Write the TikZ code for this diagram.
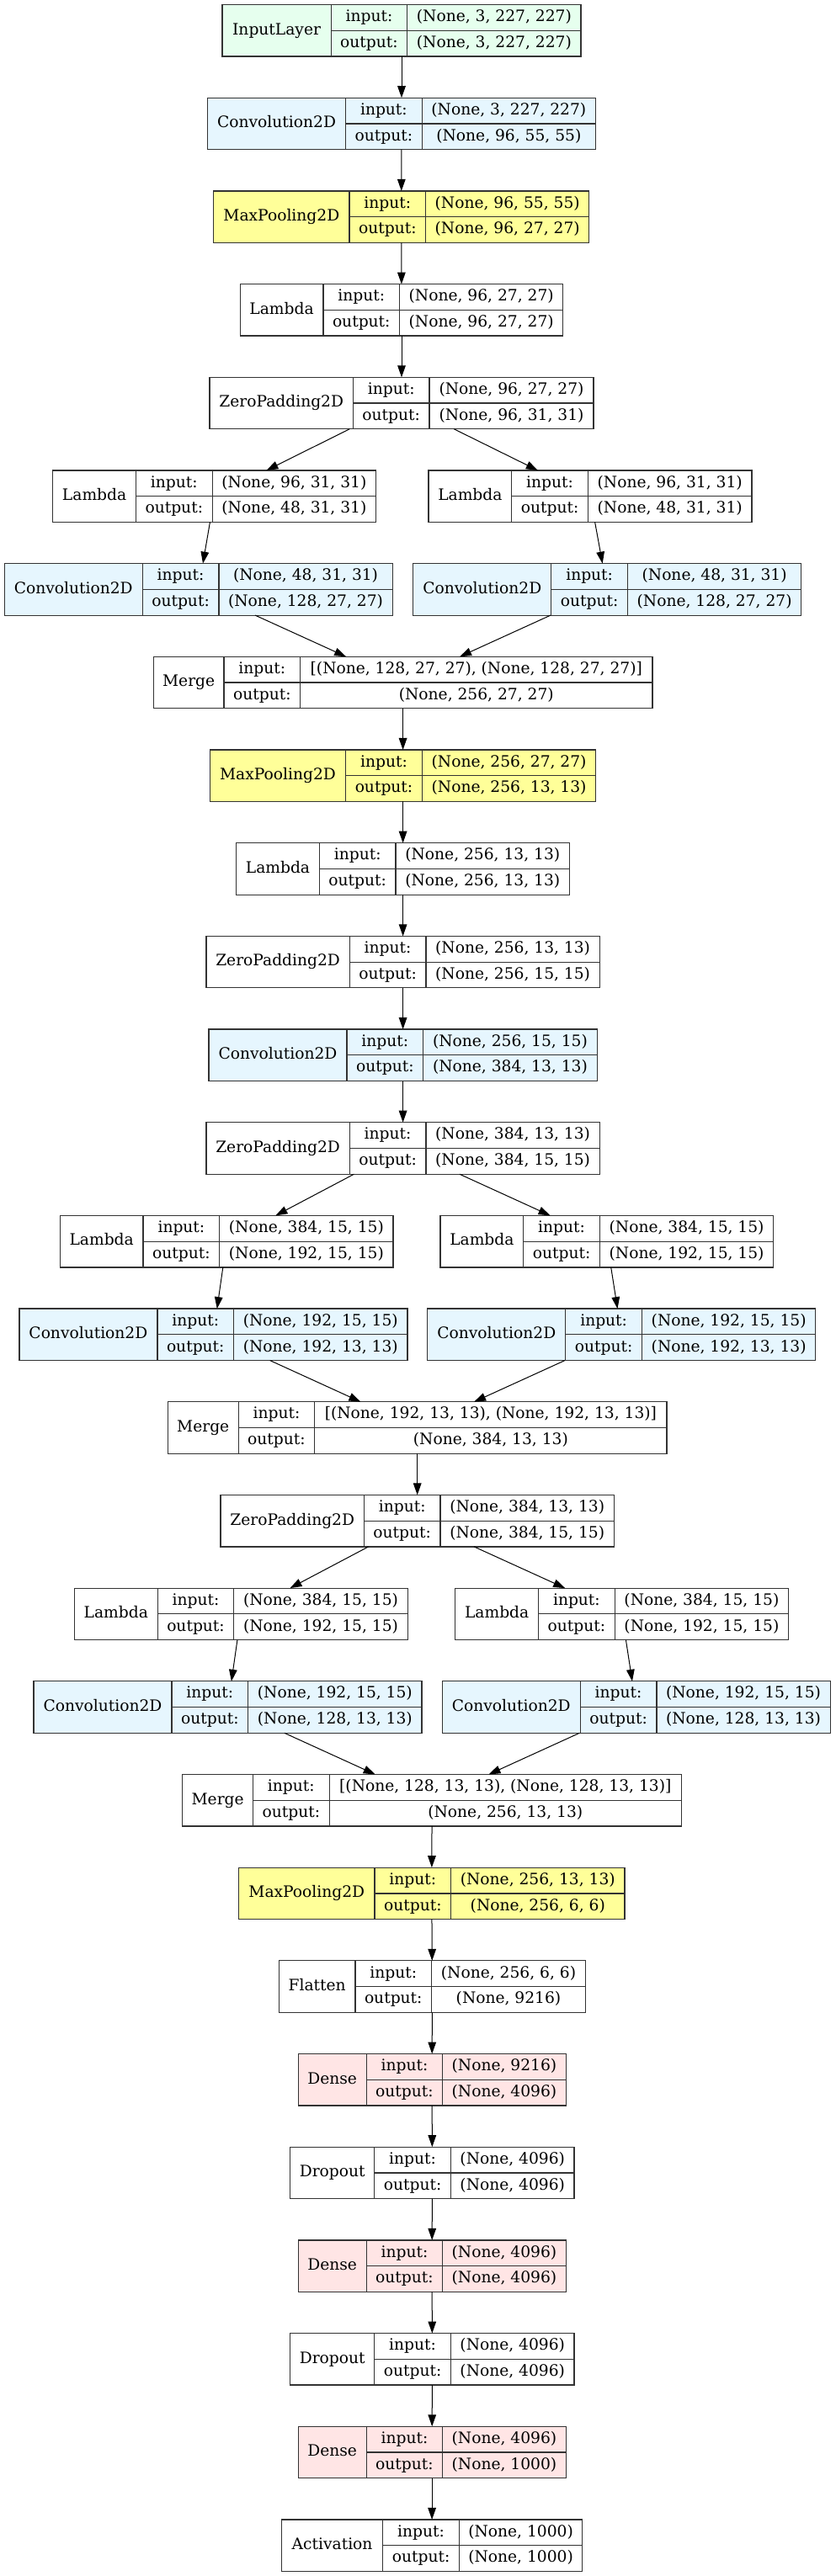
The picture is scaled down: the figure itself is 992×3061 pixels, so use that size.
\documentclass[tikz,border=0pt]{standalone}
\usepackage{fontspec}
\setmainfont{DejaVu Serif}
\usetikzlibrary{arrows.meta,calc}
\definecolor{inputgreen}{HTML}{E6FFEE}
\definecolor{convblue}{HTML}{E6F6FE}
\definecolor{poolyellow}{HTML}{FFFF99}
\definecolor{densepink}{HTML}{FFE5E5}

\begin{document}
\begin{tikzpicture}[x=0.5pt, y=-0.5pt,
  >={Triangle[length=7pt,width=4.8pt]},
  font=\fontsize{9.33}{11.2}\selectfont,
  box/.style={draw=black!80, line width=0.6pt, minimum height=30.75pt, inner sep=0pt, outer sep=0pt},
  divider/.style={draw=black!80, line width=0.6pt},
  cell/.style={inner sep=0pt, text height=6.9pt, text depth=2.1pt},
  inlayer/.style={fill=inputgreen},
  conv/.style={fill=convblue},
  pool/.style={fill=poolyellow},
  dense/.style={fill=densepink},
  plain/.style={fill=white},
  edge/.style={->, line width=0.5pt, black}]

\useasboundingbox (0,0) rectangle (992,3061);

\def\yt{36.3}
\def\dy{110.68}
\def\bh{61.5}
\def\lw{90.7}

% id, x, row, kind, name, name width, input, output, value width
\def\nnlayer#1#2#3#4#5#6#7#8#9{
  \node[box, #4, minimum width={(#6+\lw+#9)*0.5pt}] (#1) at (#2, {\yt + #3*\dy}) {};
  \draw[divider] ($(#1.north west)+(#6,0)$) -- ($(#1.south west)+(#6,0)$);
  \draw[divider] ($(#1.north east)+(-#9,0)$) -- ($(#1.south east)+(-#9,0)$);
  \draw[divider] ($(#1.west)+(#6,0)$) -- (#1.east);
  \node[cell] (#1-n) at ($(#1.west)+({#6/2},0)$) {#5};
  \node[cell] (#1-i) at ($(#1.north west)+({#6+\lw/2},{\bh/4})$) {input:};
  \node[cell] (#1-o) at ($(#1.south west)+({#6+\lw/2},{-\bh/4})$) {output:};
  \node[cell] (#1-iv) at ($(#1.north east)+({-#9/2},{\bh/4})$) {#7};
  \node[cell] (#1-ov) at ($(#1.south east)+({-#9/2},{-\bh/4})$) {#8};
}

\nnlayer{in1}{477}{0}{inlayer}{InputLayer}{129.1}{(None, 3, 227, 227)}{(None, 3, 227, 227)}{206.2}
\nnlayer{conv1}{477}{1}{conv}{Convolution2D}{164}{(None, 3, 227, 227)}{(None, 96, 55, 55)}{206.2}
\nnlayer{pool1}{476.7}{2}{pool}{MaxPooling2D}{161.3}{(None, 96, 55, 55)}{(None, 96, 27, 27)}{194}
\nnlayer{lam1}{477}{3}{plain}{Lambda}{98.7}{(None, 96, 27, 27)}{(None, 96, 27, 27)}{194.2}
\nnlayer{pad1}{477}{4}{plain}{ZeroPadding2D}{170.3}{(None, 96, 27, 27)}{(None, 96, 31, 31)}{194.9}
\nnlayer{lam2a}{254.7}{5}{plain}{Lambda}{98.7}{(None, 96, 31, 31)}{(None, 48, 31, 31)}{194.5}
\nnlayer{lam2b}{701}{5}{plain}{Lambda}{98.7}{(None, 96, 31, 31)}{(None, 48, 31, 31)}{194.5}
\nnlayer{conv2a}{235.7}{6}{conv}{Convolution2D}{164}{(None, 48, 31, 31)}{(None, 128, 27, 27)}{206.3}
\nnlayer{conv2b}{721.3}{6}{conv}{Convolution2D}{164}{(None, 48, 31, 31)}{(None, 128, 27, 27)}{206.3}
\nnlayer{merge1}{478.6}{7}{plain}{Merge}{83.7}{[(None, 128, 27, 27), (None, 128, 27, 27)]}{(None, 256, 27, 27)}{418.2}
\nnlayer{pool2}{478.6}{8}{pool}{MaxPooling2D}{161.3}{(None, 256, 27, 27)}{(None, 256, 13, 13)}{206.5}
\nnlayer{lam3}{478.6}{9}{plain}{Lambda}{98.7}{(None, 256, 13, 13)}{(None, 256, 13, 13)}{206.5}
\nnlayer{pad2}{478.6}{10}{plain}{ZeroPadding2D}{170.3}{(None, 256, 13, 13)}{(None, 256, 15, 15)}{206.3}
\nnlayer{conv3}{478.6}{11}{conv}{Convolution2D}{164}{(None, 256, 15, 15)}{(None, 384, 13, 13)}{206.5}
\nnlayer{pad3}{478.6}{12}{plain}{ZeroPadding2D}{170.3}{(None, 384, 13, 13)}{(None, 384, 15, 15)}{206.3}
\nnlayer{lam4a}{269.2}{13}{plain}{Lambda}{98.7}{(None, 384, 15, 15)}{(None, 192, 15, 15)}{206.3}
\nnlayer{lam4b}{720.9}{13}{plain}{Lambda}{98.7}{(None, 384, 15, 15)}{(None, 192, 15, 15)}{206.3}
\nnlayer{conv4a}{253.4}{14}{conv}{Convolution2D}{164}{(None, 192, 15, 15)}{(None, 192, 13, 13)}{206.3}
\nnlayer{conv4b}{738.3}{14}{conv}{Convolution2D}{164}{(None, 192, 15, 15)}{(None, 192, 13, 13)}{206.3}
\nnlayer{merge2}{495.7}{15}{plain}{Merge}{83.7}{[(None, 192, 13, 13), (None, 192, 13, 13)]}{(None, 384, 13, 13)}{418.2}
\nnlayer{pad4}{495.7}{16}{plain}{ZeroPadding2D}{170.3}{(None, 384, 13, 13)}{(None, 384, 15, 15)}{206.3}
\nnlayer{lam5a}{286.3}{17}{plain}{Lambda}{98.7}{(None, 384, 15, 15)}{(None, 192, 15, 15)}{206.3}
\nnlayer{lam5b}{738.7}{17}{plain}{Lambda}{98.7}{(None, 384, 15, 15)}{(None, 192, 15, 15)}{206.3}
\nnlayer{conv5a}{270.5}{18}{conv}{Convolution2D}{164}{(None, 192, 15, 15)}{(None, 128, 13, 13)}{206.3}
\nnlayer{conv5b}{755.7}{18}{conv}{Convolution2D}{164}{(None, 192, 15, 15)}{(None, 128, 13, 13)}{206.3}
\nnlayer{merge3}{513.1}{19}{plain}{Merge}{83.7}{[(None, 128, 13, 13), (None, 128, 13, 13)]}{(None, 256, 13, 13)}{418.2}
\nnlayer{pool3}{512.8}{20}{pool}{MaxPooling2D}{161.3}{(None, 256, 13, 13)}{(None, 256, 6, 6)}{206.3}
\nnlayer{flat}{513.4}{21}{plain}{Flatten}{90.5}{(None, 256, 6, 6)}{(None, 9216)}{182.8}
\nnlayer{dense1}{513.1}{22}{dense}{Dense}{81}{(None, 9216)}{(None, 4096)}{146.3}
\nnlayer{drop1}{513.4}{23}{plain}{Dropout}{100}{(None, 4096)}{(None, 4096)}{146.6}
\nnlayer{dense2}{513.1}{24}{dense}{Dense}{81}{(None, 4096)}{(None, 4096)}{146.3}
\nnlayer{drop2}{513.4}{25}{plain}{Dropout}{100}{(None, 4096)}{(None, 4096)}{146.6}
\nnlayer{dense3}{513.1}{26}{dense}{Dense}{81}{(None, 4096)}{(None, 1000)}{146.3}
\nnlayer{act}{513.1}{27}{plain}{Activation}{120.2}{(None, 1000)}{(None, 1000)}{146.3}

\draw[edge] (in1) -- (conv1);
\draw[edge] (conv1) -- (pool1);
\draw[edge] (pool1) -- (lam1);
\draw[edge] (lam1) -- (pad1);
\draw[edge] (pad1) -- (lam2a);
\draw[edge] (pad1) -- (lam2b);
\draw[edge] (lam2a) -- (conv2a);
\draw[edge] (lam2b) -- (conv2b);
\draw[edge] (conv2a) -- (merge1);
\draw[edge] (conv2b) -- (merge1);
\draw[edge] (merge1) -- (pool2);
\draw[edge] (pool2) -- (lam3);
\draw[edge] (lam3) -- (pad2);
\draw[edge] (pad2) -- (conv3);
\draw[edge] (conv3) -- (pad3);
\draw[edge] (pad3) -- (lam4a);
\draw[edge] (pad3) -- (lam4b);
\draw[edge] (lam4a) -- (conv4a);
\draw[edge] (lam4b) -- (conv4b);
\draw[edge] (conv4a) -- (merge2);
\draw[edge] (conv4b) -- (merge2);
\draw[edge] (merge2) -- (pad4);
\draw[edge] (pad4) -- (lam5a);
\draw[edge] (pad4) -- (lam5b);
\draw[edge] (lam5a) -- (conv5a);
\draw[edge] (lam5b) -- (conv5b);
\draw[edge] (conv5a) -- (merge3);
\draw[edge] (conv5b) -- (merge3);
\draw[edge] (merge3) -- (pool3);
\draw[edge] (pool3) -- (flat);
\draw[edge] (flat) -- (dense1);
\draw[edge] (dense1) -- (drop1);
\draw[edge] (drop1) -- (dense2);
\draw[edge] (dense2) -- (drop2);
\draw[edge] (drop2) -- (dense3);
\draw[edge] (dense3) -- (act);

\end{tikzpicture}
\end{document}
